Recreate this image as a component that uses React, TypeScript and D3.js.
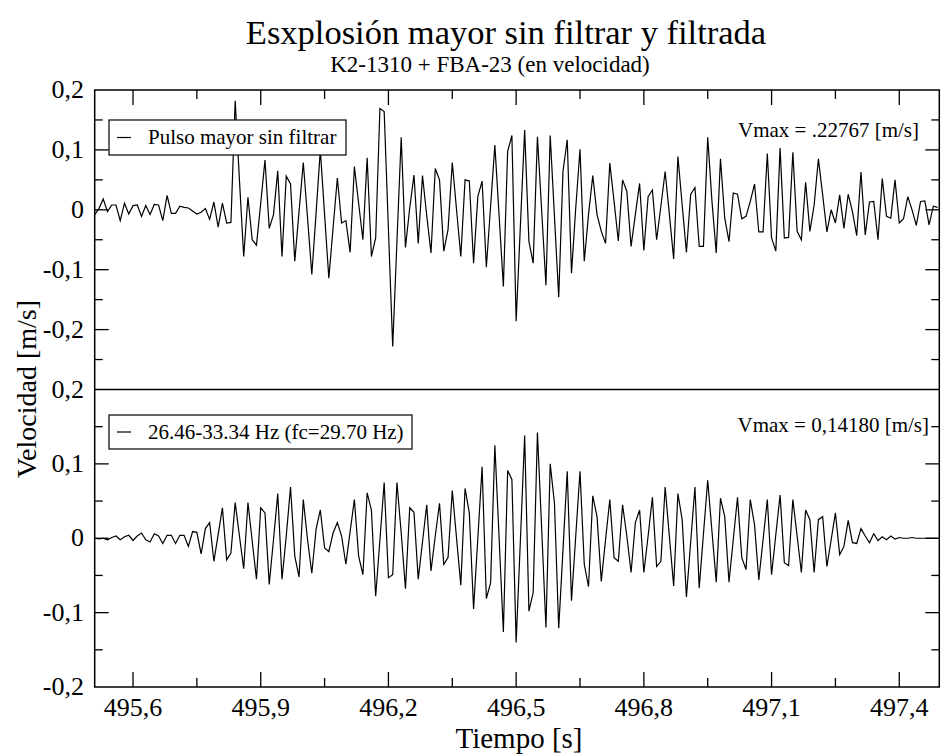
import React from 'react';
import * as d3 from 'd3';

// sampling of both traces (100 Hz)
const T0 = 495.51;
const DT = 0.01;
const X_DOMAIN = [495.51, 497.494];
const Y_DOMAIN_UP = [-0.3, 0.2];
const Y_DOMAIN_LO = [-0.2, 0.2];

const X_MAJOR = [495.6, 495.9, 496.2, 496.5, 496.8, 497.1, 497.4];
const X_MINOR = [495.75, 496.05, 496.35, 496.65, 496.95, 497.25];
const Y_LABELS_UP = [0.2, 0.1, 0, -0.1, -0.2];
const Y_LABELS_LO = [0.2, 0.1, 0, -0.1, -0.2];

const TITLE = 'Esxplosión mayor sin filtrar y filtrada';
const SUBTITLE = 'K2-1310 + FBA-23 (en velocidad)';
const LEGEND_UP = 'Pulso mayor sin filtrar';
const LEGEND_LO = '26.46-33.34 Hz (fc=29.70 Hz)';
const VMAX_UP = 'Vmax = .22767 [m/s]';
const VMAX_LO = 'Vmax = 0,14180 [m/s]';

// raw velocity trace [m/s]
const UNFILTERED = [
  -0.008, 0.002, 0.018, -0.003, 0.008, 0.008, -0.018, 0.011, -0.007, 0.007,
  0.008, -0.011, 0.007, -0.008, 0.009, 0.008, -0.018, 0.024, -0.006, -0.006,
  0.006, 0.004, 0.003, -0.002, -0.007, -0.004, 0.002, -0.016, 0.013, -0.029,
  0.011, -0.022, -0.021, 0.182, 0.05, -0.078, 0.021, -0.05, -0.059, 0.011,
  0.083, -0.031, -0.008, 0.065, -0.078, 0.056, 0.043, -0.086, -0.003, 0.079,
  -0.014, -0.108, -0.006, 0.1, -0.008, -0.114, -0.03, 0.053, -0.022, -0.018,
  -0.071, 0.072, 0.011, -0.05, 0.087, -0.078, -0.047, 0.169, 0.164, -0.033,
  -0.228, -0.053, 0.121, -0.063, 0.003, 0.058, -0.056, 0.057, -0.01, -0.072,
  0.069, 0.05, -0.069, -0.033, 0.079, 0.0, -0.078, 0.05, 0.048, -0.089,
  0.022, 0.048, -0.096, 0.006, 0.108, -0.01, -0.128, 0.097, 0.124, -0.186,
  -0.026, 0.133, -0.053, -0.089, 0.122, -0.002, -0.126, 0.124, -0.011, -0.146,
  0.064, 0.117, -0.106, 0.003, 0.101, -0.086, -0.008, 0.057, -0.008, -0.036,
  -0.056, 0.078, 0.014, -0.052, 0.05, 0.031, -0.061, -0.008, 0.044, -0.068,
  0.022, 0.033, -0.05, 0.006, 0.064, -0.008, -0.082, 0.089, 0.008, -0.071,
  0.026, 0.037, -0.061, -0.061, 0.121, 0.014, -0.072, 0.085, -0.014, -0.053,
  0.028, 0.026, -0.015, -0.011, 0.014, 0.043, -0.037, -0.037, 0.094, -0.047,
  -0.069, 0.103, -0.047, -0.046, 0.096, -0.036, -0.05, 0.046, -0.036, 0.008,
  0.085, 0.025, -0.037, 0.0, -0.022, 0.025, -0.031, 0.026, -0.003, -0.043,
  0.063, -0.042, 0.013, 0.014, -0.05, 0.052, -0.011, -0.014, 0.05, -0.022,
  -0.015, 0.022, 0.0, -0.026, 0.014, 0.015, -0.025, 0.006, 0.004,
];

// band-pass filtered trace [m/s]
const FILTERED = [
  0, -0.001, 0, -0.002, 0.001, 0.003, -0.002, 0.002, 0.004, -0.003,
  0.003, 0.007, -0.002, -0.005, 0.006, 0.003, -0.007, 0.004, 0.004, -0.007,
  0.004, 0.004, -0.011, 0.009, 0.008, -0.021, 0.013, 0.021, -0.031, 0.005,
  0.041, -0.029, -0.02, 0.048, 0.003, -0.041, 0.048, -0.004, -0.055, 0.041,
  0.034, -0.062, -0.002, 0.06, -0.055, 0.003, 0.069, -0.024, -0.052, 0.052,
  -0.002, -0.047, 0.012, 0.038, -0.013, -0.018, 0.007, 0.021, 0.003, -0.035,
  0.009, 0.052, -0.024, -0.049, 0.061, 0.038, -0.078, -0.002, 0.075, -0.053,
  -0.049, 0.075, 0.007, -0.068, 0.041, 0.035, -0.055, -0.005, 0.045, -0.044,
  0.003, 0.047, -0.035, -0.026, 0.064, 0.0, -0.063, 0.067, 0.034, -0.095,
  0.0, 0.096, -0.081, -0.06, 0.125, 0.0, -0.126, 0.091, 0.079, -0.14,
  -0.002, 0.138, -0.098, -0.073, 0.142, 0.012, -0.12, 0.1, 0.047, -0.121,
  -0.016, 0.09, -0.084, 0.003, 0.09, -0.035, -0.065, 0.057, 0.029, -0.058,
  -0.002, 0.052, -0.026, -0.031, 0.045, 0.003, -0.046, 0.021, 0.038, -0.046,
  0.003, 0.055, -0.038, -0.031, 0.069, 0.002, -0.064, 0.06, 0.025, -0.079,
  -0.005, 0.069, -0.067, 0.006, 0.078, 0.009, -0.059, 0.054, 0.029, -0.059,
  -0.002, 0.055, -0.026, -0.042, 0.052, 0.018, -0.056, -0.002, 0.052, -0.049,
  0.005, 0.058, -0.033, -0.037, 0.052, 0.003, -0.046, 0.038, 0.025, -0.046,
  0.025, 0.029, -0.038, -0.002, 0.034, -0.022, -0.011, 0.024, -0.006, -0.007,
  0.013, 0.003, -0.006, 0.006, -0.003, 0.002, -0.002, 0.003, -0.001, 0.001,
  0, 0, 0.001, 0, 0, 0, 0, 0, 0,
];

const W = 942;
const H = 755;
const LEFT = 94.7;
const RIGHT = 939.3;
const TOP = 90;
const MID = 389.5;
const BOTTOM = 687;
const FONT = 'Liberation Serif, serif';

const locale = d3.formatLocale({ decimal: ',', thousands: '.', grouping: [3], currency: ['', ''], minus: '-' });
const fmt1 = locale.format('.1f');
const fmtY = (v: number) => (Math.abs(v) < 1e-9 ? '0' : fmt1(v));

const isMajor = (v: number) => Math.abs(v * 10 - Math.round(v * 10)) < 1e-6;

export default function App() {
  const x = d3.scaleLinear().domain(X_DOMAIN).range([LEFT, RIGHT]);
  const yUp = d3.scaleLinear().domain(Y_DOMAIN_UP).range([MID, TOP]);
  const yLo = d3.scaleLinear().domain(Y_DOMAIN_LO).range([BOTTOM, MID]);

  const lineUp = d3.line<number>().x((_, i) => x(T0 + i * DT)).y((v) => yUp(v));
  const lineLo = d3.line<number>().x((_, i) => x(T0 + i * DT)).y((v) => yLo(v));

  const yTicksUp = d3.range(-0.25, 0.2, 0.05).map((v) => +v.toFixed(2));
  const yTicksLo = d3.range(-0.15, 0.2, 0.05).map((v) => +v.toFixed(2));

  const yTickMarks = (scale: d3.ScaleLinear<number, number>, ticks: number[], key: string) =>
    ticks.map((v) => {
      const len = isMajor(v) ? 14 : 8;
      const y = scale(v);
      return (
        <g key={key + v}>
          <line x1={LEFT} x2={LEFT + len} y1={y} y2={y} stroke="#000" strokeWidth={1.3} />
          <line x1={RIGHT} x2={RIGHT - len} y1={y} y2={y} stroke="#000" strokeWidth={1.3} />
        </g>
      );
    });

  const xTickMarks = [...X_MAJOR.map((v) => ({ v, len: 15 })), ...X_MINOR.map((v) => ({ v, len: 9 }))];

  return (
    <svg width={W} height={H} style={{ position: 'absolute', left: 0, top: 0, background: '#fff' }}>
      <g fontFamily={FONT} fill="#000">
        <rect x={0} y={0} width={W} height={H} fill="#fff" />

        <text x={506} y={44} textAnchor="middle" fontSize={34.5}>{TITLE}</text>
        <text x={490} y={72} textAnchor="middle" fontSize={23}>{SUBTITLE}</text>

        <path d={lineUp(UNFILTERED) || ''} fill="none" stroke="#000" strokeWidth={1.2} />
        <path d={lineLo(FILTERED) || ''} fill="none" stroke="#000" strokeWidth={1.2} />

        {/* frame */}
        <rect x={LEFT} y={TOP} width={RIGHT - LEFT} height={BOTTOM - TOP} fill="none" stroke="#000" strokeWidth={1.5} />
        <line x1={LEFT} x2={RIGHT} y1={MID} y2={MID} stroke="#000" strokeWidth={1.5} />

        {/* ticks */}
        {xTickMarks.map(({ v, len }) => (
          <g key={'xt' + v}>
            <line x1={x(v)} x2={x(v)} y1={TOP} y2={TOP + len} stroke="#000" strokeWidth={1.3} />
            <line x1={x(v)} x2={x(v)} y1={BOTTOM} y2={BOTTOM - len} stroke="#000" strokeWidth={1.3} />
          </g>
        ))}
        {yTickMarks(yUp, yTicksUp, 'yu')}
        {yTickMarks(yLo, yTicksLo, 'yl')}

        {/* tick labels */}
        {X_MAJOR.map((v) => (
          <text key={'xl' + v} x={x(v)} y={716} textAnchor="middle" fontSize={26}>{fmt1(v)}</text>
        ))}
        {Y_LABELS_UP.map((v) => (
          <text key={'yul' + v} x={84} y={yUp(v) + 8} textAnchor="end" fontSize={26}>{fmtY(v)}</text>
        ))}
        {Y_LABELS_LO.filter((v) => v < 0.2).map((v) => (
          <text key={'yll' + v} x={84} y={yLo(v) + 8} textAnchor="end" fontSize={26}>{fmtY(v)}</text>
        ))}
        <text x={84} y={MID + 8} textAnchor="end" fontSize={26}>{fmtY(Y_LABELS_LO[0])}</text>

        {/* axis titles */}
        <text x={519} y={748} textAnchor="middle" fontSize={29}>Tiempo [s]</text>
        <text transform="translate(36,389) rotate(-90)" textAnchor="middle" fontSize={28}>Velocidad [m/s]</text>

        {/* legends */}
        <rect x={109} y={120} width={237} height={35} fill="#fff" stroke="#000" strokeWidth={1.2} />
        <line x1={117} x2={131} y1={137.5} y2={137.5} stroke="#000" strokeWidth={1.2} />
        <text x={148} y={144} fontSize={21}>{LEGEND_UP}</text>

        <rect x={109} y={415} width={303} height={34} fill="#fff" stroke="#000" strokeWidth={1.2} />
        <line x1={117} x2={131} y1={432} y2={432} stroke="#000" strokeWidth={1.2} />
        <text x={148} y={439} fontSize={21}>{LEGEND_LO}</text>

        <text x={919} y={137} textAnchor="end" fontSize={21}>{VMAX_UP}</text>
        <text x={929} y={432} textAnchor="end" fontSize={21}>{VMAX_LO}</text>
      </g>
    </svg>
  );
}
